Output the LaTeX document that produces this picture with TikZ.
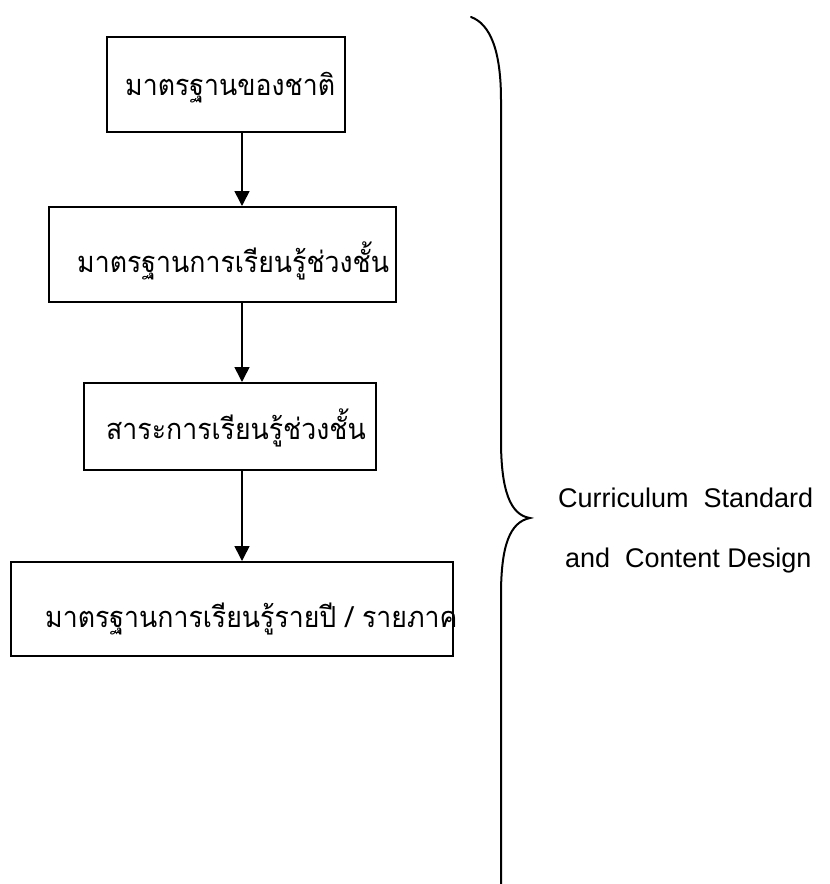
\documentclass[tikz,border=0pt]{standalone}
\usepackage{fontspec}
\setmainfont{Liberation Sans}
\newfontfamily\thaifont[Script=Thai,FakeStretch=0.92]{Loma}
\usetikzlibrary{arrows.meta}
\tikzset{
  stagebox/.style={draw, line width=2pt, inner sep=0pt},
  thailabel/.style={anchor=base west, inner sep=0pt, font=\thaifont\fontsize{29}{33}\selectfont},
  englabel/.style={anchor=base west, inner sep=0pt, font=\fontsize{27}{31}\selectfont},
  flow/.style={line width=1.6pt, -{Triangle[width=15pt,length=15pt]}},
  bracestroke/.style={line width=2pt, line cap=round}
}
\begin{document}
\begin{tikzpicture}[x=1pt, y=-1pt]
  \useasboundingbox (0,0) rectangle (830,884);
  % boxes, top to bottom
  \node[stagebox, minimum width=238pt, minimum height=95pt] (b1) at (226,84.5) {};
  \node[stagebox, minimum width=347pt, minimum height=95pt] (b2) at (222.5,254.5) {};
  \node[stagebox, minimum width=292pt, minimum height=87pt] (b3) at (230,426.5) {};
  \node[stagebox, minimum width=442pt, minimum height=94pt] (b4) at (232,609) {};
  % box texts
  \node[thailabel] (t1) at (125,95) {มาตรฐานของชาติ};
  \node[thailabel] (t2) at (77,272) {มาตรฐานการเรียนรู้ช่วงชั้น};
  \node[thailabel] (t3) at (106,439) {สาระการเรียนรู้ช่วงชั้น};
  \node[thailabel] (t4) at (45,627) {มาตรฐานการเรียนรู้รายปี / รายภาค};
  % arrows between stages
  \coordinate (ax) at (242,0);
  \draw[flow] (b1.south -| ax) -- (b2.north -| ax);
  \draw[flow] (b2.south -| ax) -- (b3.north -| ax);
  \draw[flow] (b3.south -| ax) -- (b4.north -| ax);
  % curly brace on the right
  \coordinate (tip) at (530,518);
  \draw[bracestroke] (471,17) .. controls (490,24) and (501,50) .. (501,100)
    -- (501,440) .. controls (501,490) and (510,515) .. (tip)
    .. controls (510,522) and (501,545) .. (501,595) -- (501,890);
  % caption
  \node[englabel] (c1) at (558,507) {Curriculum\ \ Standard};
  \node[englabel] (c2) at (565,567) {and\ \ Content Design};
\end{tikzpicture}
\end{document}
